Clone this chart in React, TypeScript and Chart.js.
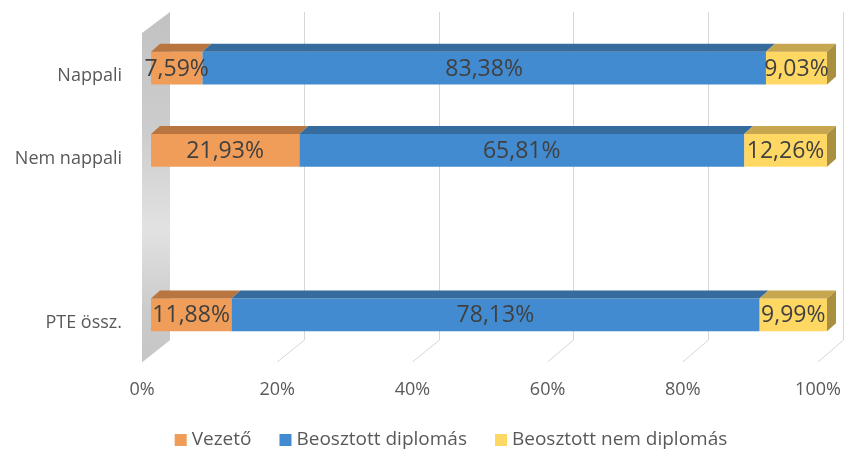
import React, { useEffect, useRef } from 'react';
import { Chart, registerables } from 'chart.js';

Chart.register(...registerables);

const categories = ['Nappali', 'Nem nappali', '', 'PTE össz.'];
const seriesNames = ['Vezető', 'Beosztott diplomás', 'Beosztott nem diplomás'];
const vezeto = [7.59, 21.93, null, 11.88];
const beosztottDiplomas = [83.38, 65.81, null, 78.13];
const beosztottNemDiplomas = [9.03, 12.26, null, 9.99];
const xTicks = [0, 20, 40, 60, 80, 100];

const frontColors = ['#EF9D58', '#428BD0', '#FFD864'];
const topColors = ['#B8753F', '#356C9D', '#C6A74F'];
const sideColors = ['#9E6132', '#2B5A85', '#A89040'];

const FONT = '"Open Sans", sans-serif';
const DX = 9;
const DY = 8;

const fmt = (v: number) => v.toFixed(2).replace('.', ',') + '%';

const threeD = {
  id: 'threeD',
  beforeDatasetsDraw(chart: any) {
    const { ctx, chartArea: a, scales } = chart;
    const x = scales.x;
    const backTop = a.top - 15;
    const backBottom = a.bottom - 16;
    const frontTop = a.top + 6;
    const frontBottom = a.bottom + 6;
    const backX = (p: number) => p + 19 - (2 * (p - a.left)) / (a.right - a.left);
    const frontX = (p: number) => p - 9;
    ctx.save();
    ctx.strokeStyle = '#D6D6D6';
    ctx.lineWidth = 1;
    xTicks.forEach((v) => {
      const p = x.getPixelForValue(v);
      const bx = Math.round(backX(p)) - 0.5;
      ctx.beginPath();
      ctx.moveTo(bx, backTop);
      ctx.lineTo(bx, backBottom);
      ctx.lineTo(frontX(p), frontBottom);
      ctx.stroke();
    });
    const l0 = frontX(a.left);
    const b0 = backX(a.left);
    const g = ctx.createLinearGradient(0, backTop, 0, frontBottom);
    g.addColorStop(0, '#C2C2C2');
    g.addColorStop(0.35, '#CDCDCD');
    g.addColorStop(0.62, '#E2E2E2');
    g.addColorStop(0.85, '#CBCBCB');
    g.addColorStop(1, '#C6C6C6');
    ctx.fillStyle = g;
    ctx.beginPath();
    ctx.moveTo(l0, frontTop);
    ctx.lineTo(b0, backTop);
    ctx.lineTo(b0, backBottom);
    ctx.lineTo(l0, frontBottom);
    ctx.closePath();
    ctx.fill();
    ctx.restore();
  },
  afterDatasetsDraw(chart: any) {
    const { ctx } = chart;
    const n = chart.data.datasets.length;
    ctx.save();
    const labels: any[] = [];
    chart.data.datasets.forEach((ds: any, di: number) => {
      const meta = chart.getDatasetMeta(di);
      meta.data.forEach((el: any, i: number) => {
        const v = ds.data[i];
        if (v == null) return;
        const { x, y, base, height } = el.getProps(['x', 'y', 'base', 'height'], true);
        const t = y - height / 2;
        const b = y + height / 2;
        const l = Math.min(base, x);
        const r = Math.max(base, x);
        ctx.fillStyle = topColors[di];
        ctx.beginPath();
        ctx.moveTo(l, t);
        ctx.lineTo(r, t);
        ctx.lineTo(r + DX, t - DY);
        ctx.lineTo(l + DX, t - DY);
        ctx.closePath();
        ctx.fill();
        if (di === n - 1) {
          ctx.fillStyle = sideColors[di];
          ctx.beginPath();
          ctx.moveTo(r, t);
          ctx.lineTo(r + DX, t - DY);
          ctx.lineTo(r + DX, b - DY);
          ctx.lineTo(r, b);
          ctx.closePath();
          ctx.fill();
        }
        labels.push({ text: fmt(v), x: (l + r) / 2, y: y + 1 });
      });
    });
    ctx.fillStyle = '#404040';
    ctx.font = `23px ${FONT}`;
    ctx.textAlign = 'center';
    ctx.textBaseline = 'middle';
    labels.forEach((lb) => ctx.fillText(lb.text, lb.x, lb.y));
    ctx.restore();
  },
  afterDraw(chart: any) {
    const { ctx } = chart;
    ctx.save();
    ctx.font = `19px ${FONT}`;
    ctx.textBaseline = 'middle';
    ctx.textAlign = 'left';
    const box = 12;
    const gap = 5;
    const itemGap = 28;
    const ds = chart.data.datasets;
    const widths = ds.map((d: any) => box + gap + ctx.measureText(d.label).width);
    const total = widths.reduce((s: number, w: number) => s + w, 0) + itemGap * (ds.length - 1);
    let xPos = 451 - total / 2;
    const yc = 440;
    ds.forEach((d: any, i: number) => {
      ctx.fillStyle = frontColors[i];
      ctx.fillRect(xPos, yc - box / 2, box, box);
      ctx.fillStyle = '#595959';
      ctx.fillText(d.label, xPos + box + gap, yc);
      xPos += widths[i] + itemGap;
    });
    ctx.restore();
  },
};

export default function App() {
  const ref = useRef<HTMLCanvasElement>(null);
  useEffect(() => {
    if (!ref.current) return;
    const seriesData = [vezeto, beosztottDiplomas, beosztottNemDiplomas];
    const chart = new Chart(ref.current, {
      type: 'bar',
      data: {
        labels: categories,
        datasets: seriesNames.map((name, i) => ({
          label: name,
          data: seriesData[i],
          backgroundColor: frontColors[i],
          borderWidth: 0,
          categoryPercentage: 1,
          barPercentage: 0.4,
        })),
      },
      options: {
        indexAxis: 'y',
        responsive: false,
        animation: false,
        devicePixelRatio: 1,
        layout: { padding: { top: 27, right: 18, bottom: 0, left: 0 } },
        plugins: {
          legend: { display: false },
          tooltip: { enabled: false },
        },
        scales: {
          x: {
            stacked: true,
            min: 0,
            max: 100,
            grid: { display: false, drawTicks: false },
            border: { display: false },
            ticks: {
              stepSize: 20,
              padding: 23,
              labelOffset: -9,
              color: '#595959',
              font: { family: FONT, size: 18 },
              callback: (v: any) => v + '%',
            },
            afterFit: (s: any) => {
              s.height = 94;
              s.paddingLeft = 0;
              s.paddingRight = 0;
            },
          },
          y: {
            stacked: true,
            grid: { display: false, drawTicks: false },
            border: { display: false },
            ticks: {
              padding: 29,
              labelOffset: 8,
              color: '#595959',
              font: { family: FONT, size: 18 },
            },
            afterFit: (s: any) => {
              s.width = 151;
              s.paddingTop = 0;
              s.paddingBottom = 0;
            },
          },
        },
      },
      plugins: [threeD],
    } as any);
    return () => chart.destroy();
  }, []);
  return (
    <div style={{ position: 'absolute', left: 0, top: 0, width: 845, height: 450, background: '#FFFFFF' }}>
      <canvas ref={ref} width={845} height={450} style={{ width: 845, height: 450 }} />
    </div>
  );
}
